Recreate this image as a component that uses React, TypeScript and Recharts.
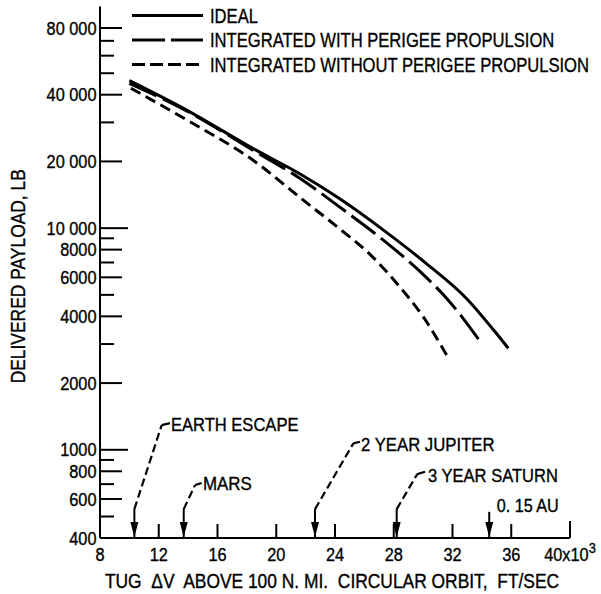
import React from 'react';
import { LineChart, Line, XAxis, YAxis, Legend, ReferenceLine, ReferenceDot } from 'recharts';

const FONT = "'Liberation Sans', Arial, sans-serif";

const seriesNames = ['IDEAL', 'INTEGRATED WITH PERIGEE PROPULSION', 'INTEGRATED WITHOUT PERIGEE PROPULSION'];
const seriesDash = ['', '30 7', '11 6'];
const legendDash = ['', '33 6', '13 5'];

const idealX = [10.0, 13.9, 18.4, 21.6, 24.3, 27.3, 30.2, 33.0, 34.8, 35.8];
const idealY = [46300, 34100, 22900, 17600, 13600, 9800, 6940, 4780, 3470, 2870];

const withX = [10.0, 13.9, 18.4, 21.6, 24.5, 27.0, 29.8, 31.8, 33.9];
const withY = [45000, 33800, 22500, 16800, 12200, 9150, 6360, 4660, 3070];

const withoutX = [10.1, 13.9, 18.4, 21.8, 24.3, 26.4, 28.4, 30.0, 31.6];
const withoutY = [42800, 30800, 20300, 13450, 9950, 7600, 5440, 3985, 2676];

const xTicks = [8, 12, 16, 20, 24, 28, 32, 36, 40];
const yTicks = [400, 500, 600, 700, 800, 900, 1000, 2000, 3000, 4000, 5000, 6000, 7000, 8000, 9000, 10000, 20000, 30000, 40000, 50000, 60000, 70000, 80000];
const yTickLabels: Record<number, string> = {
  400: '400', 600: '600', 800: '800', 1000: '1000', 2000: '2000', 4000: '4000', 6000: '6000', 8000: '8000',
  10000: '10 000', 20000: '20 000', 40000: '40 000', 80000: '80 000',
};

const annotationNames = ['EARTH ESCAPE', 'MARS', '2 YEAR JUPITER', '3 YEAR SATURN', '0. 15 AU'];
const annotationX = [10.34, 13.7, 22.64, 28.2, 34.5];
const arrowTopY = [540, 540, 540, 540, 525];
const leaderBendX = [12.2, 14.47, 25.25, 29.6];
const leaderBendY = [1293, 693, 1069, 777];
const leaderEndX = [12.77, 14.92, 25.7, 30.13];
const leaderEndY = [1320, 708, 1087, 796];
const labelX = [12.83, 15.01, 25.77, 30.33, 35.01];
const labelY = [1215, 658, 990, 717, 525];

const toData = (xs: number[], ys: number[]) => xs.map((x, i) => ({ x, y: ys[i] }));
const seriesData = [toData(idealX, idealY), toData(withX, withY), toData(withoutX, withoutY)];

// condensed-looking text: horizontally scaled
const ST = ({ x, y, sx, size, anchor, rotate, children }: any) => (
  <g transform={`translate(${x},${y})${rotate ? ` rotate(${rotate})` : ''} scale(${sx},1)`}>
    <text x={0} y={0} textAnchor={anchor || 'start'} fontSize={size} fontFamily={FONT} fill="#000"
      stroke="#000" strokeWidth={0.35} xmlSpace="preserve" style={{ whiteSpace: 'pre' }}>
      {children}
    </text>
  </g>
);

const YTick = (props: any) => {
  const { x, y, payload } = props;
  const v = payload.value;
  const label = yTickLabels[v];
  const len = v === 10000 || v === 1000 ? 28 : label ? 22 : 14;
  return (
    <g>
      {v !== 400 && <line x1={x} x2={x + len} y1={y} y2={y} stroke="#000" strokeWidth={2} />}
      {label && <ST x={x - 3.5} y={y + 6.7} sx={0.86} size={19} anchor="end">{label}</ST>}
    </g>
  );
};

const XTick = (props: any) => {
  const { x, y, payload } = props;
  const v = payload.value;
  const len = v === 40 ? 17 : 14;
  return (
    <g>
      {v !== 8 && <line x1={x} x2={x} y1={y} y2={y - len} stroke="#000" strokeWidth={2} />}
      <ST x={x} y={y + 23} sx={0.86} size={19} anchor="middle">
        {v === 40 ? (
          <>
            40x10<tspan dy={-8} fontSize={15}>3</tspan>
          </>
        ) : (
          String(v)
        )}
      </ST>
    </g>
  );
};

const renderLegend = (props: any) => {
  const payload = props.payload || [];
  return (
    <svg width={601} height={80} style={{ display: 'block' }}>
      {payload.map((p: any) => {
        const idx = seriesNames.indexOf(p.value);
        const yy = 15.5 + idx * 24.5;
        return (
          <g key={p.value}>
            <line x1={132} x2={203} y1={yy} y2={yy} stroke="#000" strokeWidth={3}
              strokeDasharray={legendDash[idx] || undefined} />
            <ST x={210} y={yy + 7.2} sx={0.83} size={20}>{p.value}</ST>
          </g>
        );
      })}
    </svg>
  );
};

const labelScale = [0.92, 0.94, 0.93, 0.92, 0.9];

const textShape = (label: string, sx: number) => (props: any) => (
  <ST x={props.cx} y={props.cy} sx={sx} size={18}>{label}</ST>
);

const arrowHead = (props: any) => {
  const { cx, cy } = props;
  return <path d={`M${cx - 4},${cy - 16} L${cx + 4},${cy - 16} L${cx},${cy - 1} Z`} fill="#000" />;
};

export default function App() {
  return (
    <div style={{ position: 'absolute', left: 0, top: 0 }}>
      <LineChart width={601} height={594} margin={{ top: 6.5, right: 31, bottom: 0, left: 0 }}
        style={{ fontFamily: FONT }}>
        <XAxis type="number" dataKey="x" domain={[8, 40]} ticks={xTicks} interval={0}
          tickSize={0} tickMargin={0} tick={<XTick />} height={56} allowDataOverflow
          axisLine={{ stroke: '#000', strokeWidth: 2 }} tickLine={false}
          label={(lp: any) => {
            const vb = lp.viewBox || {};
            return (
              <ST x={vb.x + vb.width / 2 - 3} y={588} sx={0.87} size={20} anchor="middle">
                {'TUG  \u0394V  ABOVE 100 N. MI.  CIRCULAR ORBIT,  FT/SEC'}
              </ST>
            );
          }} />
        <YAxis type="number" dataKey="y" scale="log" domain={[400, 100000]} ticks={yTicks} interval={0}
          tickSize={0} tickMargin={0} tick={<YTick />} width={100} allowDataOverflow
          axisLine={{ stroke: '#000', strokeWidth: 2 }} tickLine={false}
          label={(lp: any) => {
            const vb = lp.viewBox || {};
            const cy = vb.y + vb.height / 2 + 4;
            return (
              <ST x={25} y={cy} rotate={-90} sx={0.83} size={21} anchor="middle">
                DELIVERED PAYLOAD, LB
              </ST>
            );
          }} />
        <Legend layout="horizontal" verticalAlign="middle" align="center" content={renderLegend}
          wrapperStyle={{ top: 0, left: 0, width: 601, height: 80 }} />
        {seriesData.map((d, i) => (
          <Line key={seriesNames[i]} name={seriesNames[i]} data={d} dataKey="y" type="monotone"
            stroke="#000" strokeWidth={3} dot={false} activeDot={false}
            strokeDasharray={seriesDash[i] || undefined} isAnimationActive={false} />
        ))}
        {annotationNames.map((n, i) => (
          <ReferenceLine key={`shaft-${n}`} segment={[{ x: annotationX[i], y: arrowTopY[i] }, { x: annotationX[i], y: 400 }]}
            stroke="#000" strokeWidth={2} />
        ))}
        {leaderBendX.map((bx, i) => (
          <ReferenceLine key={`lead1-${i}`} segment={[{ x: annotationX[i], y: arrowTopY[i] }, { x: bx, y: leaderBendY[i] }]}
            stroke="#000" strokeWidth={2.2} strokeDasharray="8 4" />
        ))}
        {leaderBendX.map((bx, i) => (
          <ReferenceLine key={`lead2-${i}`} segment={[{ x: bx, y: leaderBendY[i] }, { x: leaderEndX[i], y: leaderEndY[i] }]}
            stroke="#000" strokeWidth={2.2} />
        ))}
        {annotationNames.map((n, i) => (
          <ReferenceDot key={`head-${n}`} x={annotationX[i]} y={400} r={0} shape={arrowHead} />
        ))}
        {annotationNames.map((n, i) => (
          <ReferenceDot key={`lbl-${n}`} x={labelX[i]} y={labelY[i]} r={0} shape={textShape(n, labelScale[i])} />
        ))}
      </LineChart>
    </div>
  );
}
